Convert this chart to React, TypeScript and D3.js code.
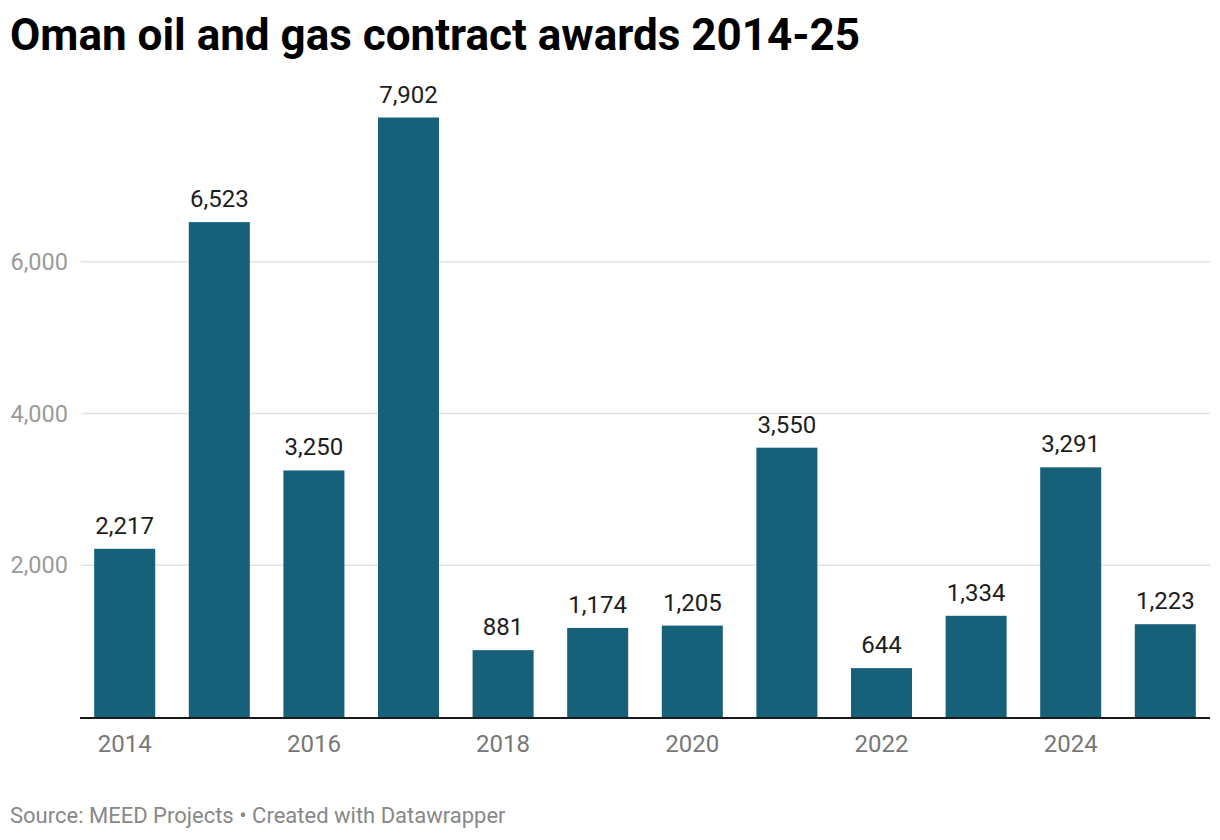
import { useEffect, useRef } from 'react';
import * as d3 from 'd3';

const years = ['2014', '2015', '2016', '2017', '2018', '2019', '2020', '2021', '2022', '2023', '2024', '2025'];
const awards = [2217, 6523, 3250, 7902, 881, 1174, 1205, 3550, 644, 1334, 3291, 1223];
const yTicks = [2000, 4000, 6000];
const xTickLabels = ['2014', '2016', '2018', '2020', '2022', '2024'];

const W = 1220;
const H = 840;
const FONT = 'Roboto, "Noto Sans", sans-serif';

export default function App() {
  const svgRef = useRef<SVGSVGElement>(null);

  useEffect(() => {
    if (!svgRef.current) return;
    const svg = d3.select(svgRef.current);
    svg.selectAll('*').remove();

    const left = 80;
    const right = 1210;
    const bottom = 717;

    const x = d3.scaleBand<string>().domain(years).range([left, right]).paddingInner(0.355).paddingOuter(0.15);
    const y = d3.scaleLinear().domain([0, 7902]).range([bottom, 117.5]);

    // title
    svg
      .append('text')
      .attr('x', 10)
      .attr('y', 50)
      .style('font-family', FONT)
      .style('font-weight', 700)
      .style('font-size', '44px')
      .style('fill', '#000')
      .text('Oman oil and gas contract awards 2014-25');

    // gridlines + y labels
    const grid = svg.append('g');
    yTicks.forEach((t) => {
      grid
        .append('line')
        .attr('x1', left + 1)
        .attr('x2', right)
        .attr('y1', y(t))
        .attr('y2', y(t))
        .style('stroke', '#e3e3e3')
        .style('stroke-width', 1.5);
      grid
        .append('text')
        .attr('x', 68)
        .attr('y', y(t))
        .attr('dy', '0.35em')
        .attr('text-anchor', 'end')
        .style('font-family', FONT)
        .style('font-size', '23.5px')
        .style('fill', '#9a9a9a')
        .text(d3.format(',')(t));
    });

    // bars
    svg
      .append('g')
      .selectAll('rect')
      .data(awards)
      .enter()
      .append('rect')
      .attr('x', (_d, i) => x(years[i])!)
      .attr('width', x.bandwidth())
      .attr('y', (d) => y(d))
      .attr('height', (d) => bottom - y(d))
      .style('fill', '#17607a');

    // value labels
    svg
      .append('g')
      .selectAll('text')
      .data(awards)
      .enter()
      .append('text')
      .attr('x', (_d, i) => x(years[i])! + x.bandwidth() / 2)
      .attr('y', (d) => y(d) - 15)
      .attr('text-anchor', 'middle')
      .style('font-family', FONT)
      .style('font-size', '24px')
      .style('fill', '#1d1d1d')
      .text((d) => d3.format(',')(d));

    // baseline
    svg
      .append('line')
      .attr('x1', left)
      .attr('x2', right)
      .attr('y1', bottom + 1)
      .attr('y2', bottom + 1)
      .style('stroke', '#1a1a1a')
      .style('stroke-width', 2);

    // x labels
    svg
      .append('g')
      .selectAll('text')
      .data(xTickLabels)
      .enter()
      .append('text')
      .attr('x', (d) => x(d)! + x.bandwidth() / 2)
      .attr('y', 752)
      .attr('text-anchor', 'middle')
      .style('font-family', FONT)
      .style('font-size', '24px')
      .style('fill', '#777')
      .text((d) => d);

    // footer
    svg
      .append('text')
      .attr('x', 10)
      .attr('y', 823)
      .style('font-family', FONT)
      .style('font-size', '22px')
      .style('fill', '#888')
      .text('Source: MEED Projects • Created with Datawrapper');
  }, []);

  return (
    <div style={{ position: 'absolute', left: 0, top: 0, width: W, height: H, background: '#fff' }}>
      <svg ref={svgRef} width={W} height={H} />
    </div>
  );
}
